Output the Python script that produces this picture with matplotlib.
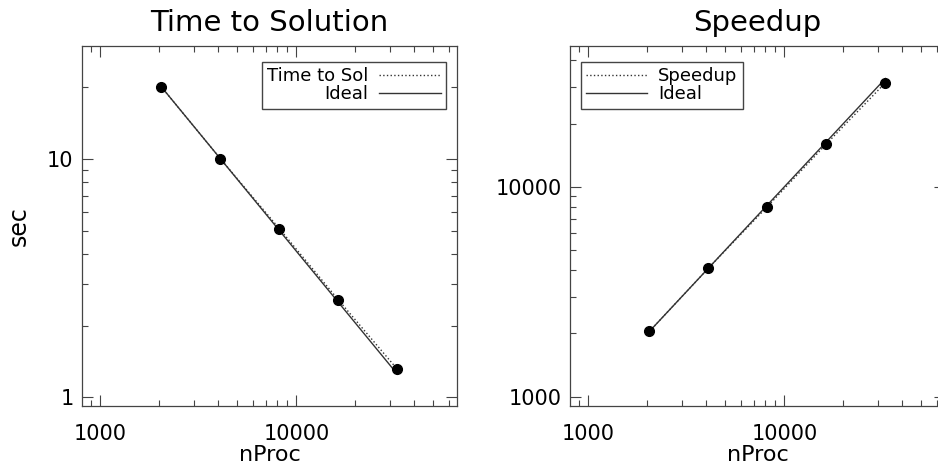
import numpy as np
import matplotlib
matplotlib.use('Agg')
import matplotlib.pyplot as plt
from matplotlib.ticker import LogLocator, NullFormatter, FixedLocator, FixedFormatter

nproc = [2048, 4096, 8192, 16384, 32768]
time_sol = [20.0, 10.0, 5.09, 2.56, 1.31]
time_ideal = [20.0, 10.0, 5.0, 2.5, 1.25]
speedup = [2048, 4096, 8050, 16000, 31300]
speedup_ideal = [2048, 4096, 8192, 16384, 32768]

plt.rcParams['font.family'] = 'DejaVu Sans'

fig = plt.figure(figsize=(9.38, 4.73), dpi=100)
ax1 = fig.add_axes([82 / 938, 67 / 473, 375 / 938, 360 / 473])
ax2 = fig.add_axes([570 / 938, 67 / 473, 375 / 938, 360 / 473])


def style(ax, yticks, ylabels):
    ax.set_xscale('log')
    ax.set_yscale('log')
    ax.set_xlim(805, 66000)
    ax.xaxis.set_major_locator(FixedLocator([1000, 10000]))
    ax.xaxis.set_major_formatter(FixedFormatter(['1000', '10000']))
    ax.yaxis.set_major_locator(FixedLocator(yticks))
    ax.yaxis.set_major_formatter(FixedFormatter(ylabels))
    ax.xaxis.set_minor_locator(LogLocator(base=10, subs=np.arange(2, 10)))
    ax.yaxis.set_minor_locator(LogLocator(base=10, subs=np.arange(2, 10)))
    ax.xaxis.set_minor_formatter(NullFormatter())
    ax.yaxis.set_minor_formatter(NullFormatter())
    ax.tick_params(which='both', direction='in', top=True, right=True,
                   width=0.8, color='#444444', labelsize=15)
    ax.tick_params(axis='y', which='both', pad=6)
    ax.tick_params(axis='x', which='both', pad=13)
    ax.tick_params(which='major', length=8)
    ax.tick_params(which='minor', length=4)
    for s in ax.spines.values():
        s.set_linewidth(0.9)
        s.set_color('#444444')
    ax.set_xlabel('nProc', fontsize=16, labelpad=1)


leg_kw = dict(fontsize=13, fancybox=False, edgecolor='#444444', framealpha=1,
              borderaxespad=0, handlelength=3.4, labelspacing=0.0,
              borderpad=0.3, handletextpad=0.6)

# left panel: time to solution
ax1.plot(nproc, time_sol, ':', color='#333333', lw=1.0, label='Time to Sol')
ax1.plot(nproc, time_ideal, '-', color='#333333', lw=1.0, label='Ideal')
ax1.plot(nproc, time_sol, 'o', color='black', ms=7)
style(ax1, [1, 10], ['1', '10'])
ax1.set_ylim(0.92, 29.7)
ax1.set_ylabel('sec', fontsize=17, labelpad=12)
ax1.set_title('Time to Solution', fontsize=21, pad=11)
ax1.legend(loc='upper right', bbox_to_anchor=(0.971, 0.956), markerfirst=False, **leg_kw)

# right panel: speedup
ax2.plot(nproc, speedup, ':', color='#333333', lw=1.0, label='Speedup')
ax2.plot(nproc, speedup_ideal, '-', color='#333333', lw=1.0, label='Ideal')
ax2.plot(nproc, speedup, 'o', color='black', ms=7)
style(ax2, [1000, 10000], ['1000', '10000'])
ax2.set_ylim(903, 46800)
ax2.set_title('Speedup', fontsize=21, pad=11)
ax2.legend(loc='upper left', bbox_to_anchor=(0.0285, 0.956), **leg_kw)

fig.savefig('out.png', dpi=100)
